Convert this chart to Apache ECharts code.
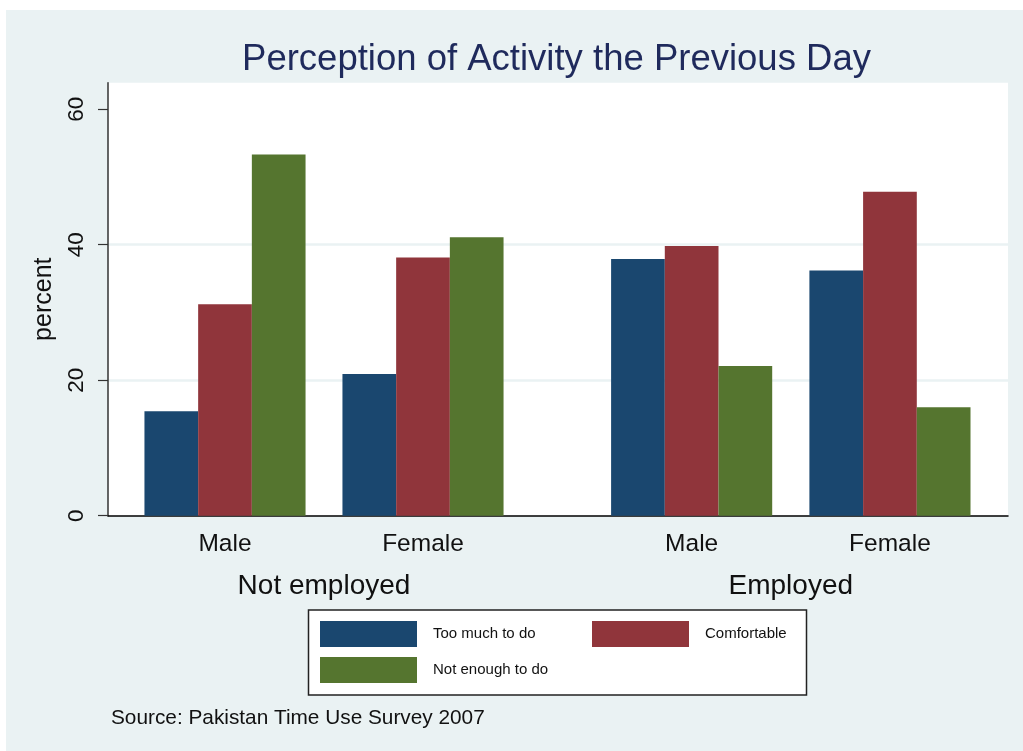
<!DOCTYPE html>
<html>
<head>
<meta charset="utf-8">
<script src="https://cdn.jsdelivr.net/npm/echarts@6/dist/echarts.min.js"></script>
<style>
html,body{margin:0;padding:0;background:#fff;}
#chart{width:1023px;height:751px;}
</style>
</head>
<body>
<div id="chart"></div>
<script>
// ---- data ----
const groupLabels = ['Not employed', 'Employed'];
const sexLabels = ['Male', 'Female'];
const seriesNames = ['Too much to do', 'Comfortable', 'Not enough to do'];
// order: [Male, Female] within each group
const tooMuchNotEmp = [15.4, 20.9];
const comfortableNotEmp = [31.2, 38.1];
const notEnoughNotEmp = [53.3, 41.1];
const tooMuchEmp = [37.9, 36.2];
const comfortableEmp = [39.8, 47.8];
const notEnoughEmp = [22.1, 16.0];
const yTicks = [0, 20, 40, 60];
const yMax = 63.9;
const titleText = 'Perception of Activity the Previous Day';
const yName = 'percent';
const sourceText = 'Source: Pakistan Time Use Survey 2007';

const colors = ['#1a476f', '#90353b', '#55752f'];
const FONT = '"Liberation Sans", Arial, sans-serif';
const BG = '#eaf2f3';

const chart = echarts.init(document.getElementById('chart'), null, {renderer: 'canvas'});

const plotTop = 82.7, plotBottom = 235.3;
const gridsDef = [
  {left: 108, right: 15, top: plotTop, bottom: plotBottom},
  {left: 126, width: 396, top: plotTop, bottom: plotBottom},
  {left: 592.5, width: 396.6, top: plotTop, bottom: plotBottom}
];

function hiddenY(gi) {
  return {type: 'value', gridIndex: gi, min: 0, max: yMax, show: false,
    splitLine: {show: false}};
}
function groupX(gi, name) {
  return {
    type: 'category', gridIndex: gi, data: sexLabels,
    axisLine: {show: false}, axisTick: {show: false},
    axisLabel: {fontSize: 24.5, color: '#111', fontFamily: FONT, margin: 16},
    name: name, nameLocation: 'middle', nameGap: 57,
    nameTextStyle: {fontSize: 28, color: '#111', fontFamily: FONT}
  };
}
function bar(name, gi, data, ci) {
  return {
    type: 'bar', name: name, xAxisIndex: gi, yAxisIndex: gi, data: data,
    barWidth: 53.7, barGap: '0%', itemStyle: {color: colors[ci]},
    animation: false, silent: true
  };
}
function legendPart(data, left) {
  return {
    data: data, left: left, top: 621,
    orient: 'horizontal', itemWidth: 97, itemHeight: 26, itemGap: 10,
    icon: 'rect', padding: 0, selectedMode: false,
    textStyle: {fontSize: 15, color: '#111', fontFamily: FONT, padding: [3, 0, 0, 11]}
  };
}

chart.setOption({
  animation: false,
  backgroundColor: '#ffffff',
  title: {
    text: titleText, left: 551.5, top: 36, textAlign: 'center',
    textStyle: {fontSize: 36.5, fontWeight: 'normal', color: '#1f2a5c', fontFamily: FONT}
  },
  graphic: [
    {type: 'rect', z: -10, silent: true, shape: {x: 6, y: 10, width: 1017, height: 741}, style: {fill: BG}},
    {type: 'rect', z: -5, silent: true, shape: {x: 308.5, y: 610, width: 498, height: 85},
     style: {fill: '#ffffff', stroke: '#222', lineWidth: 1.5}},
    {type: 'text', left: 111, top: 708, silent: true,
     style: {text: sourceText, fontSize: 20.8, fill: '#111', fontFamily: FONT}}
  ],
  grid: [
    Object.assign({show: true, backgroundColor: '#ffffff', borderWidth: 0}, gridsDef[0]),
    gridsDef[1], gridsDef[2]
  ],
  xAxis: [
    {type: 'category', gridIndex: 0, data: [''], axisTick: {show: false}, axisLabel: {show: false},
     axisLine: {lineStyle: {color: '#000', width: 1.5}}},
    groupX(1, groupLabels[0]),
    groupX(2, groupLabels[1])
  ],
  yAxis: [
    {type: 'value', gridIndex: 0, min: 0, max: yMax,
     axisLine: {show: true, lineStyle: {color: '#333', width: 1.5}},
     axisTick: {show: true, length: 10, customValues: yTicks, lineStyle: {color: '#333', width: 1.2}},
     axisLabel: {rotate: 90, fontSize: 22.5, color: '#111', fontFamily: FONT, margin: 20, customValues: yTicks},
     splitLine: {show: true, showMaxLine: false, showMinLine: false, lineStyle: {color: BG, width: 2.5}},
     name: yName, nameLocation: 'middle', nameGap: 43,
     nameTextStyle: {fontSize: 25, color: '#111', fontFamily: FONT}},
    hiddenY(1), hiddenY(2)
  ],
  legend: [
    legendPart([seriesNames[0], '', seriesNames[2]], 320),
    legendPart([seriesNames[1]], 592)
  ],
  series: [
    bar(seriesNames[0], 1, tooMuchNotEmp, 0),
    bar(seriesNames[1], 1, comfortableNotEmp, 1),
    bar(seriesNames[2], 1, notEnoughNotEmp, 2),
    bar(seriesNames[0], 2, tooMuchEmp, 0),
    bar(seriesNames[1], 2, comfortableEmp, 1),
    bar(seriesNames[2], 2, notEnoughEmp, 2)
  ]
});
</script>
</body>
</html>
